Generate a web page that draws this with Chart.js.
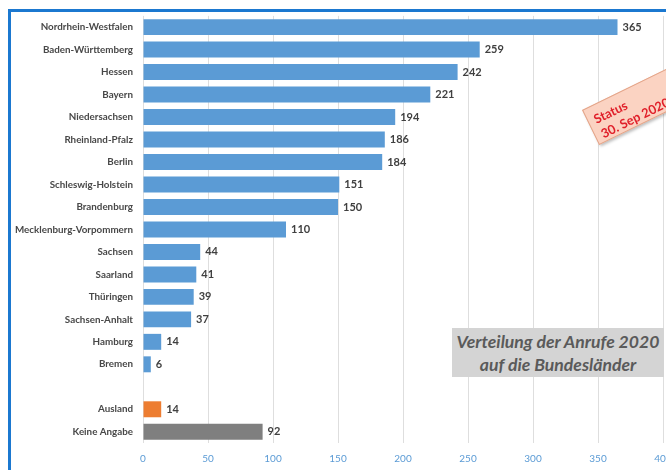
<!DOCTYPE html>
<html>
<head>
<meta charset="utf-8">
<script src="https://cdn.jsdelivr.net/npm/chart.js@4/dist/chart.umd.min.js"></script>
<style>
  body { margin: 0; background: #fff; overflow: hidden; }
  #wrap { position: relative; width: 700px; height: 470px; }
  #frame { position: absolute; left: 8px; top: 9px; width: 720px; height: 500px;
           border: 3px solid #1b78d0; box-sizing: border-box; pointer-events: none; }
  #title { position: absolute; left: 452px; top: 328px; width: 212px; height: 49px;
           background: #d4d4d4; color: #5a5a5a; font: italic bold 17.6px Lato, sans-serif;
           text-align: center; line-height: 23px; padding-top: 2px; box-sizing: border-box; }
  #stamp { position: absolute; left: 582px; top: 110px; width: 118px; height: 39px;
           transform-origin: 0 0; transform: rotate(-26deg);
           background: #fbd3c2; border: 1px solid #e3a488; box-shadow: 1px 2px 3px rgba(0,0,0,0.25);
           color: #e0202a; font: bold 12.8px Lato, sans-serif; line-height: 16px;
           padding: 5px 0 0 6px; box-sizing: border-box; }
</style>
</head>
<body>
<div id="wrap">
  <canvas id="chart" width="700" height="470"></canvas>
  <div id="frame"></div>
  <div id="stamp">Status<br>30. Sep 2020</div>
  <div id="title">Verteilung der Anrufe 2020<br>auf die Bundesländer</div>
</div>
<script>
const states = ['Nordrhein-Westfalen', 'Baden-Württemberg', 'Hessen', 'Bayern', 'Niedersachsen',
  'Rheinland-Pfalz', 'Berlin', 'Schleswig-Holstein', 'Brandenburg', 'Mecklenburg-Vorpommern',
  'Sachsen', 'Saarland', 'Thüringen', 'Sachsen-Anhalt', 'Hamburg', 'Bremen'];
const stateValues = [365, 259, 242, 221, 194, 186, 184, 151, 150, 110, 44, 41, 39, 37, 14, 6];
const extraLabels = ['Ausland', 'Keine Angabe'];
const extraValues = [14, 92];
const xTicks = [0, 50, 100, 150, 200, 250, 300, 350, 400];

const labels = [...states, '', ...extraLabels];
const values = [...stateValues, null, ...extraValues];
const colors = labels.map(l => l === 'Ausland' ? '#ed7d31' : l === 'Keine Angabe' ? '#7f7f7f' : '#5b9bd5');

const valueLabels = {
  id: 'valueLabels',
  afterDatasetsDraw(chart) {
    const ctx = chart.ctx;
    const meta = chart.getDatasetMeta(0);
    ctx.save();
    ctx.font = 'bold 11px Lato, sans-serif';
    ctx.fillStyle = '#404040';
    ctx.textAlign = 'left';
    ctx.textBaseline = 'middle';
    meta.data.forEach((bar, i) => {
      if (values[i] == null) return;
      ctx.fillText(values[i], bar.x + 5, bar.y);
    });
    ctx.restore();
  }
};

new Chart(document.getElementById('chart').getContext('2d'), {
  type: 'bar',
  data: {
    labels: labels,
    datasets: [{
      data: values,
      backgroundColor: colors,
      categoryPercentage: 1,
      barPercentage: 0.71
    }]
  },
  options: {
    indexAxis: 'y',
    responsive: false,
    animation: false,
    layout: { padding: { left: 0, right: 37, top: 14, bottom: 0 } },
    plugins: { legend: { display: false }, tooltip: { enabled: false } },
    scales: {
      x: {
        min: 0,
        max: 400,
        afterBuildTicks: scale => { scale.ticks = xTicks.map(v => ({ value: v })); },
        afterFit: scale => { scale.height = 27; },
        grid: { color: '#dedede', drawTicks: false },
        border: { display: false },
        ticks: { color: '#5b9bd5', font: { family: 'Lato', size: 10 }, padding: 10 }
      },
      y: {
        afterFit: scale => { scale.width = 143; },
        grid: { display: false, drawTicks: false },
        border: { display: false },
        ticks: { color: '#484848', font: { family: 'Lato', size: 9.8, weight: 'bold' }, padding: 10, autoSkip: false }
      }
    }
  },
  plugins: [valueLabels]
});
</script>
</body>
</html>
